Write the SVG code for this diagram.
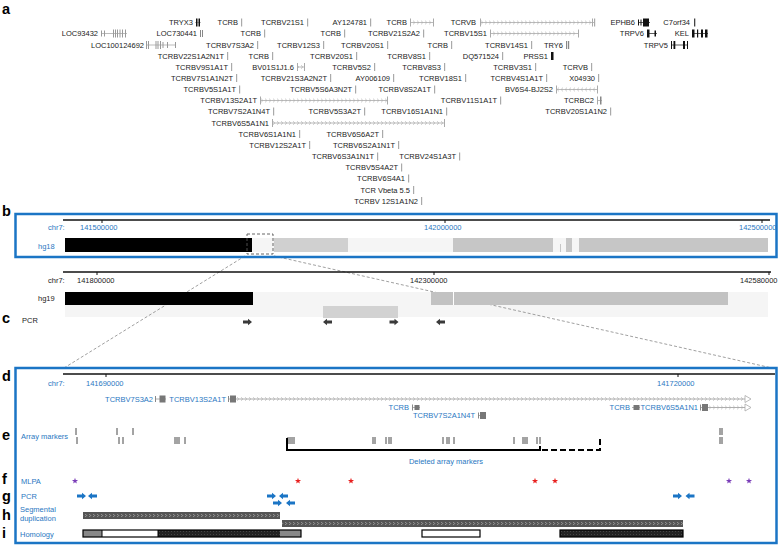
<svg xmlns="http://www.w3.org/2000/svg" width="779" height="545" viewBox="0 0 779 545">
<style>
text{font-family:"Liberation Sans",Arial,Helvetica,sans-serif}
.g{font-size:7.5px;fill:#222;text-anchor:end}
.gb{font-size:7.5px;fill:#2a78c2;text-anchor:end}
.pl{font-size:14.5px;font-weight:bold;fill:#000}
.bt{font-size:7.5px;fill:#2a78c2}
.kt{font-size:7.5px;fill:#222}
.tk{fill:#aaa}
.gy{fill:#888}
.blk{fill:#111}
.gln{stroke:#aaa;stroke-width:0.8;fill:none}
.dln{stroke:#999;stroke-width:0.8;fill:none}
.box{fill:none;stroke:#1b75c5;stroke-width:2.5}
.axis{stroke:#111;stroke-width:1.6}
.conn{stroke:#888;stroke-width:0.8;stroke-dasharray:3 2;fill:none}
.mk{stroke:#333;stroke-width:0.9;fill:none}
.pcrk{fill:#3a3a3a}
.pcrb{fill:#1b75c5}
</style>
<defs>
<pattern id="chR" width="4" height="6" y="-3" patternUnits="userSpaceOnUse"><path d="M1,1.3L2.8,3L1,4.7" fill="none" stroke="#aaa" stroke-width="0.7"/></pattern>
<pattern id="chL" width="4" height="6" y="-3" patternUnits="userSpaceOnUse"><path d="M3,1.3L1.2,3L3,4.7" fill="none" stroke="#aaa" stroke-width="0.7"/></pattern>
<pattern id="sd" width="4" height="7" y="-3.5" patternUnits="userSpaceOnUse"><rect width="4" height="7" fill="#555"/><path d="M1.2,2L2.7,3.5L1.2,5" fill="none" stroke="#ccc" stroke-width="0.6"/></pattern>
<pattern id="dk" width="3" height="3" patternUnits="userSpaceOnUse"><rect width="3" height="3" fill="#222"/><rect width="1" height="1" fill="#444"/></pattern>
<path id="star" d="M0,-3.2L0.76,-1.05L3.04,-0.99L1.24,0.4L1.88,2.59L0,1.3L-1.88,2.59L-1.24,0.4L-3.04,-0.99L-0.76,-1.05Z"/>
<path id="arR" d="M-4.5,-1.4H0.5V-3.2L4.5,0L0.5,3.2V1.4H-4.5Z"/>
<path id="arL" d="M4.5,-1.4H-0.5V-3.2L-4.5,0L-0.5,3.2V1.4H4.5Z"/>
</defs>
<rect width="779" height="545" fill="#fff"/>

<!-- panel letters -->
<g id="panel-letters">
<text class="pl" x="2" y="14">a</text>
<text class="pl" x="2" y="216">b</text>
<text class="pl" x="2" y="323">c</text>
<text class="pl" x="2" y="381">d</text>
<text class="pl" x="2" y="440">e</text>
<text class="pl" x="2" y="484">f</text>
<text class="pl" x="2" y="501">g</text>
<text class="pl" x="2" y="520">h</text>
<text class="pl" x="2" y="538">i</text>
</g>

<!-- panel a genes -->
<g id="panel-a">
<!-- row 1 -->
<g id="g-TRYX3" transform="translate(0,22.5)"><text class="g" x="193" y="2.7">TRYX3</text><path class="gln" d="M195,0H201"/><rect class="blk" x="196" y="-4" width="1.5" height="8"/><rect class="blk" x="198.5" y="-4" width="1.5" height="8"/></g>
<g id="g-TCRB-1" transform="translate(0,22.5)"><text class="g" x="238" y="2.7">TCRB</text><rect class="tk" x="241" y="-4" width="1.2" height="8"/></g>
<g id="g-TCRBV21S1" transform="translate(0,22.5)"><text class="g" x="304" y="2.7">TCRBV21S1</text><rect class="tk" x="307" y="-4" width="1.2" height="8"/></g>
<g id="g-AY124781" transform="translate(0,22.5)"><text class="g" x="367" y="2.7">AY124781</text><rect class="tk" x="370" y="-4" width="1.2" height="8"/></g>
<g id="g-TCRB-2" transform="translate(0,22.5)"><text class="g" x="407" y="2.7">TCRB</text><path class="gln" d="M410,0H434"/><rect x="411" y="-3" width="22" height="6" fill="url(#chR)"/><rect class="tk" x="410" y="-4" width="1" height="8"/><rect class="tk" x="433" y="-4" width="1" height="8"/></g>
<g id="g-TCRVB-1" transform="translate(0,22.5)"><text class="g" x="476" y="2.7">TCRVB</text><path class="gln" d="M480,0H595"/><rect x="481" y="-3" width="110" height="6" fill="url(#chR)"/><rect class="tk" x="480" y="-4" width="1" height="8"/><rect class="tk" x="592" y="-4" width="1" height="8"/><rect class="tk" x="594" y="-4" width="1.2" height="8"/></g>
<g id="g-EPHB6" transform="translate(0,22.5)"><text class="g" x="635" y="2.7">EPHB6</text><path class="gln" d="M638,0H650" style="stroke:#333"/><rect class="blk" x="638" y="-3" width="1" height="6"/><rect class="blk" x="640.5" y="-3" width="1" height="6"/><rect class="blk" x="643" y="-4" width="6" height="8"/></g>
<g id="g-C7orf34" transform="translate(0,22.5)"><text class="g" x="690" y="2.7">C7orf34</text><rect x="694" y="-4" width="1.3" height="8" fill="#444"/></g>
<!-- row 2 -->
<g id="g-LOC93432" transform="translate(0,33.5)"><text class="g" x="98" y="2.7">LOC93432</text><path class="gln" d="M101,0H127"/><path d="M101.5,-3v6M104.5,-3v6M113.5,-4v8M115.5,-4v8M117.5,-4v8M120,-4v8M122.5,-4v8M125.5,-4v8" stroke="#999" stroke-width="1"/></g>
<g id="g-LOC730441" transform="translate(0,33.5)"><text class="g" x="197" y="2.7">LOC730441</text><rect class="gy" x="200" y="-3.5" width="1" height="7"/><rect class="gy" x="202" y="-3.5" width="1" height="7"/></g>
<g id="g-TCRB-3" transform="translate(0,33.5)"><text class="g" x="261" y="2.7">TCRB</text><rect class="tk" x="264" y="-4" width="1.2" height="8"/></g>
<g id="g-TCRB-4" transform="translate(0,33.5)"><text class="g" x="341" y="2.7">TCRB</text><rect class="tk" x="344" y="-4" width="1.2" height="8"/></g>
<g id="g-TCRBV21S2A2" transform="translate(0,33.5)"><text class="g" x="420" y="2.7">TCRBV21S2A2</text><rect class="tk" x="423" y="-4" width="1.2" height="8"/></g>
<g id="g-TCRBV15S1" transform="translate(0,33.5)"><text class="g" x="487" y="2.7">TCRBV15S1</text><path class="gln" d="M490,0H579"/><rect x="491" y="-3" width="86" height="6" fill="url(#chR)"/><rect class="tk" x="490" y="-4" width="1" height="8"/><rect class="tk" x="578" y="-4" width="1" height="8"/></g>
<g id="g-TRPV6" transform="translate(0,33.5)"><text class="g" x="644" y="2.7">TRPV6</text><path class="gln" d="M647,0H657" style="stroke:#333"/><rect class="blk" x="647" y="-4" width="2.5" height="8"/><rect class="blk" x="654.5" y="-3" width="1.5" height="6"/></g>
<g id="g-KEL" transform="translate(0,33.5)"><text class="g" x="689" y="2.7">KEL</text><path class="gln" d="M692,0H708" style="stroke:#333"/><rect class="blk" x="692" y="-4" width="2.5" height="8"/><rect class="blk" x="697" y="-4" width="1.2" height="8"/><rect class="blk" x="701" y="-4" width="2" height="8"/><rect class="blk" x="705" y="-4" width="2.5" height="8"/></g>
<!-- row 3 -->
<g id="g-LOC100124692" transform="translate(0,45)"><text class="g" x="144" y="2.7">LOC100124692</text><path class="gln" d="M146,0H176"/><path d="M146.5,-4v8M148.5,-4v8M156,-4v8M158,-4v8M160.5,-4v8M163,-3v6M167.5,-3v6M175.5,-3v6" stroke="#999" stroke-width="1"/></g>
<g id="g-TCRBV7S3A2" transform="translate(0,45)"><text class="g" x="254" y="2.7">TCRBV7S3A2</text><rect class="tk" x="257" y="-4" width="1.2" height="8"/></g>
<g id="g-TCRBV12S3" transform="translate(0,45)"><text class="g" x="320" y="2.7">TCRBV12S3</text><rect class="tk" x="323" y="-4" width="1.2" height="8"/></g>
<g id="g-TCRBV20S1-1" transform="translate(0,45)"><text class="g" x="384" y="2.7">TCRBV20S1</text><rect class="tk" x="387" y="-4" width="1.2" height="8"/></g>
<g id="g-TCRB-5" transform="translate(0,45)"><text class="g" x="448" y="2.7">TCRB</text><rect class="tk" x="451" y="-4" width="1.2" height="8"/></g>
<g id="g-TCRBV14S1" transform="translate(0,45)"><text class="g" x="528" y="2.7">TCRBV14S1</text><rect class="tk" x="531" y="-4" width="1.2" height="8"/></g>
<g id="g-TRY6" transform="translate(0,45)"><text class="g" x="563" y="2.7">TRY6</text><rect class="gy" x="566" y="-4" width="1.2" height="8"/><rect class="gy" x="568" y="-4" width="1.2" height="8"/></g>
<g id="g-TRPV5" transform="translate(0,45)"><text class="g" x="668" y="2.7">TRPV5</text><path class="gln" d="M671,0H688" style="stroke:#333"/><rect class="blk" x="671" y="-4" width="1" height="8"/><rect class="blk" x="673.5" y="-4" width="1.8" height="8"/><rect class="blk" x="683" y="-4" width="2" height="8"/><rect class="blk" x="687" y="-4" width="1" height="8"/></g>
<!-- row 4 -->
<g id="g-TCRBV22S1A2N1T" transform="translate(0,56)"><text class="g" x="224" y="2.7">TCRBV22S1A2N1T</text><rect class="tk" x="227" y="-4" width="1.2" height="8"/></g>
<g id="g-TCRB-6" transform="translate(0,56)"><text class="g" x="269" y="2.7">TCRB</text><rect class="tk" x="272" y="-4" width="1.2" height="8"/></g>
<g id="g-TCRBV20S1-2" transform="translate(0,56)"><text class="g" x="353" y="2.7">TCRBV20S1</text><rect class="tk" x="356" y="-4" width="1.2" height="8"/></g>
<g id="g-TCRBV8S1" transform="translate(0,56)"><text class="g" x="426" y="2.7">TCRBV8S1</text><rect class="tk" x="429" y="-4" width="1.2" height="8"/></g>
<g id="g-DQ571524" transform="translate(0,56)"><text class="g" x="499" y="2.7">DQ571524</text><rect class="tk" x="502" y="-4" width="1.2" height="8"/></g>
<g id="g-PRSS1" transform="translate(0,56)"><text class="g" x="548" y="2.7">PRSS1</text><rect class="blk" x="551" y="-4" width="2.5" height="8"/></g>
<!-- row 5 -->
<g id="g-TCRBV9S1A1T" transform="translate(0,67)"><text class="g" x="228" y="2.7">TCRBV9S1A1T</text><rect class="tk" x="231" y="-4" width="1.2" height="8"/></g>
<g id="g-BV01S1J1.6" transform="translate(0,67)"><text class="g" x="294" y="2.7">BV01S1J1.6</text><path class="gln" d="M297,0H305"/><rect x="298" y="-3" width="6" height="6" fill="url(#chR)"/><rect class="tk" x="297" y="-4" width="1" height="8"/><rect class="tk" x="304" y="-4" width="1" height="8"/></g>
<g id="g-TCRBV5S2" transform="translate(0,67)"><text class="g" x="371" y="2.7">TCRBV5S2</text><rect class="tk" x="374" y="-4" width="1.2" height="8"/></g>
<g id="g-TCRBV8S3" transform="translate(0,67)"><text class="g" x="441" y="2.7">TCRBV8S3</text><rect class="tk" x="444" y="-4" width="1.2" height="8"/></g>
<g id="g-TCRBV3S1" transform="translate(0,67)"><text class="g" x="532" y="2.7">TCRBV3S1</text><rect class="tk" x="535" y="-4" width="1.2" height="8"/></g>
<g id="g-TCRVB-2" transform="translate(0,67)"><text class="g" x="588" y="2.7">TCRVB</text><rect class="tk" x="591" y="-4" width="1.2" height="8"/></g>
<!-- row 6 -->
<g id="g-TCRBV7S1A1N2T" transform="translate(0,78)"><text class="g" x="233" y="2.7">TCRBV7S1A1N2T</text><rect class="tk" x="236" y="-4" width="1.2" height="8"/></g>
<g id="g-TCRBV21S3A2N2T" transform="translate(0,78)"><text class="g" x="327" y="2.7">TCRBV21S3A2N2T</text><rect class="tk" x="330" y="-4" width="1.2" height="8"/></g>
<g id="g-AY006109" transform="translate(0,78)"><text class="g" x="390" y="2.7">AY006109</text><rect class="tk" x="393" y="-4" width="1.2" height="8"/></g>
<g id="g-TCRBV18S1" transform="translate(0,78)"><text class="g" x="462" y="2.7">TCRBV18S1</text><rect class="tk" x="465" y="-4" width="1.2" height="8"/></g>
<g id="g-TCRBV4S1A1T" transform="translate(0,78)"><text class="g" x="543" y="2.7">TCRBV4S1A1T</text><rect class="tk" x="546" y="-4" width="1.2" height="8"/></g>
<g id="g-X04930" transform="translate(0,78)"><text class="g" x="595" y="2.7">X04930</text><rect class="tk" x="598" y="-4" width="1.2" height="8"/></g>
<!-- row 7 -->
<g id="g-TCRBV5S1A1T" transform="translate(0,89.5)"><text class="g" x="236" y="2.7">TCRBV5S1A1T</text><rect class="tk" x="239" y="-4" width="1.2" height="8"/></g>
<g id="g-TCRBV5S6A3N2T" transform="translate(0,89.5)"><text class="g" x="352" y="2.7">TCRBV5S6A3N2T</text><rect class="tk" x="355" y="-4" width="1.2" height="8"/></g>
<g id="g-TCRBV8S2A1T" transform="translate(0,89.5)"><text class="g" x="431" y="2.7">TCRBV8S2A1T</text><rect class="tk" x="434" y="-4" width="1.2" height="8"/></g>
<g id="g-BV6S4-BJ2S2" transform="translate(0,89.5)"><text class="g" x="553" y="2.7">BV6S4-BJ2S2</text><path class="gln" d="M556,0H598"/><rect x="557" y="-3" width="40" height="6" fill="url(#chL)"/><rect class="tk" x="556" y="-4" width="1" height="8"/><rect class="tk" x="597" y="-4" width="1" height="8"/></g>
<!-- row 8 -->
<g id="g-TCRBV13S2A1T" transform="translate(0,100.5)"><text class="g" x="257" y="2.7">TCRBV13S2A1T</text><path class="gln" d="M260,0H388"/><rect x="261" y="-3" width="126" height="6" fill="url(#chR)"/><rect class="tk" x="260" y="-4" width="1" height="8"/><rect class="tk" x="387" y="-4" width="1" height="8"/></g>
<g id="g-TCRBV11S1A1T" transform="translate(0,100.5)"><text class="g" x="497" y="2.7">TCRBV11S1A1T</text><rect class="tk" x="500" y="-4" width="1.2" height="8"/></g>
<g id="g-TCRBC2" transform="translate(0,100.5)"><text class="g" x="594" y="2.7">TCRBC2</text><path class="gln" d="M597,0H602"/><rect class="tk" x="597" y="-4" width="1" height="8"/><rect class="gy" x="600" y="-4" width="1.5" height="8"/></g>
<!-- row 9 -->
<g id="g-TCRBV7S2A1N4T" transform="translate(0,111.5)"><text class="g" x="270" y="2.7">TCRBV7S2A1N4T</text><rect class="tk" x="273" y="-4" width="1.2" height="8"/></g>
<g id="g-TCRBV5S3A2T" transform="translate(0,111.5)"><text class="g" x="361" y="2.7">TCRBV5S3A2T</text><rect class="tk" x="364" y="-4" width="1.2" height="8"/></g>
<g id="g-TCRBV16S1A1N1" transform="translate(0,111.5)"><text class="g" x="443" y="2.7">TCRBV16S1A1N1</text><rect class="tk" x="446" y="-4" width="1.2" height="8"/></g>
<g id="g-TCRBV20S1A1N2" transform="translate(0,111.5)"><text class="g" x="607" y="2.7">TCRBV20S1A1N2</text><rect class="tk" x="610" y="-4" width="1.2" height="8"/></g>
<!-- row 10 -->
<g id="g-TCRBV6S5A1N1" transform="translate(0,123)"><text class="g" x="269" y="2.7">TCRBV6S5A1N1</text><path class="gln" d="M272,0H445"/><rect x="273" y="-3" width="171" height="6" fill="url(#chR)"/><rect class="tk" x="272" y="-4" width="1" height="8"/><rect class="tk" x="444" y="-4" width="1" height="8"/></g>
<!-- row 11 -->
<g id="g-TCRBV6S1A1N1" transform="translate(0,134)"><text class="g" x="296" y="2.7">TCRBV6S1A1N1</text><rect class="tk" x="299" y="-4" width="1.2" height="8"/></g>
<g id="g-TCRBV6S6A2T" transform="translate(0,134)"><text class="g" x="379" y="2.7">TCRBV6S6A2T</text><rect class="tk" x="382" y="-4" width="1.2" height="8"/></g>
<!-- row 12 -->
<g id="g-TCRBV12S2A1T" transform="translate(0,145)"><text class="g" x="306" y="2.7">TCRBV12S2A1T</text><rect class="tk" x="309" y="-4" width="1.2" height="8"/></g>
<g id="g-TCRBV6S2A1N1T" transform="translate(0,145)"><text class="g" x="395" y="2.7">TCRBV6S2A1N1T</text><rect class="tk" x="398" y="-4" width="1.2" height="8"/></g>
<!-- row 13 -->
<g id="g-TCRBV6S3A1N1T" transform="translate(0,156.5)"><text class="g" x="374" y="2.7">TCRBV6S3A1N1T</text><rect class="tk" x="377" y="-4" width="1.2" height="8"/></g>
<g id="g-TCRBV24S1A3T" transform="translate(0,156.5)"><text class="g" x="456" y="2.7">TCRBV24S1A3T</text><rect class="tk" x="459" y="-4" width="1.2" height="8"/></g>
<!-- rows 14-17 -->
<g id="g-TCRBV5S4A2T" transform="translate(0,167.5)"><text class="g" x="398" y="2.7">TCRBV5S4A2T</text><rect class="tk" x="401" y="-4" width="1.2" height="8"/></g>
<g id="g-TCRBV6S4A1" transform="translate(0,178.5)"><text class="g" x="405" y="2.7">TCRBV6S4A1</text><rect class="tk" x="408" y="-4" width="1.2" height="8"/></g>
<g id="g-TCRVbeta5.5" transform="translate(0,190)"><text class="g" x="410" y="2.7">TCR Vbeta 5.5</text><rect class="tk" x="413" y="-4" width="1.2" height="8"/></g>
<g id="g-TCRBV12S1A1N2" transform="translate(0,201)"><text class="g" x="418" y="2.7">TCRBV 12S1A1N2</text><rect class="tk" x="421" y="-4" width="1.2" height="8"/></g>
</g>

<!-- background bands for hg19 / PCR -->
<rect x="65" y="292" width="703" height="25" fill="#f5f5f5"/>

<!-- connectors -->
<g id="connectors">
<path class="conn" d="M245,256L64,368"/>
<path class="conn" d="M274,256L772,368"/>
</g>

<!-- panel b: hg18 -->
<g id="panel-b-hg18">
<rect class="box" x="15.5" y="214" width="761" height="43"/>
<line class="axis" x1="63" y1="220" x2="770" y2="220"/>
<path d="M102,220v3M445,220v3M762,220v3" stroke="#111" stroke-width="1"/>
<text class="bt" x="48" y="230">chr7:</text>
<text class="bt" x="80" y="230">141500000</text>
<text class="bt" x="424" y="230">142000000</text>
<text class="bt" x="739" y="230">142500000</text>
<text class="bt" x="38" y="249">hg18</text>
<rect x="65" y="238" width="703" height="14" fill="#f5f5f5"/>
<rect x="65" y="238" width="187" height="14" fill="#000"/>
<rect x="274" y="238" width="74" height="14" fill="#d0d0d0"/>
<rect x="453" y="238" width="100" height="14" fill="#c6c6c6"/>
<rect x="560" y="244" width="1" height="8" fill="#c6c6c6"/>
<rect x="566" y="238" width="6" height="14" fill="#c6c6c6"/>
<rect x="579" y="238" width="189" height="14" fill="#c6c6c6"/>
<rect x="247" y="234" width="26" height="20" fill="none" stroke="#555" stroke-width="0.9" stroke-dasharray="3 2"/>
</g>

<!-- hg19 -->
<g id="panel-b-hg19">
<line class="axis" x1="63" y1="272" x2="771" y2="272"/>
<path d="M97,272v3M434,272v3M769,272v3" stroke="#111" stroke-width="1"/>
<text class="kt" x="48" y="283">chr7:</text>
<text class="kt" x="77" y="283">141800000</text>
<text class="kt" x="410" y="283">142300000</text>
<text class="kt" x="740" y="283">142580000</text>
<text class="kt" x="38" y="301">hg19</text>
<rect x="65" y="292" width="188" height="13" fill="#000"/>
<rect x="431" y="292" width="297" height="13" fill="#c2c2c2"/>
<rect x="453" y="292" width="1" height="13" fill="#fff"/>
</g>

<!-- panel c -->
<g id="panel-c">
<text class="kt" x="22" y="323">PCR</text>
<rect x="323" y="306" width="75" height="12" fill="#d2d2d2"/>
<use href="#arR" class="pcrk" x="247.5" y="322"/>
<use href="#arL" class="pcrk" x="327.5" y="322"/>
<use href="#arR" class="pcrk" x="394" y="322"/>
<use href="#arL" class="pcrk" x="440.5" y="322"/>
</g>

<!-- panel d -->
<g id="panel-d">
<rect class="box" x="15.5" y="368" width="761" height="175"/>
<line class="axis" x1="63" y1="374" x2="775" y2="374"/>
<path d="M106,374v3M678,374v3" stroke="#111" stroke-width="1"/>
<text class="bt" x="48" y="386">chr7:</text>
<text class="bt" x="86" y="386">141690000</text>
<text class="bt" x="657" y="386">141720000</text>
</g>
<g id="d-TCRBV7S3A2" transform="translate(0,399)"><text class="gb" x="153" y="2.7">TCRBV7S3A2</text><path class="dln" d="M155,0H166"/><rect x="155" y="-3" width="1" height="6" fill="#888"/><rect x="159.5" y="-3.5" width="6" height="7" fill="#777"/></g>
<g id="d-TCRBV13S2A1T" transform="translate(0,399)"><text class="gb" x="226" y="2.7">TCRBV13S2A1T</text><path class="dln" d="M228,0H746"/><rect x="237" y="-3" width="508" height="6" fill="url(#chR)"/><rect x="228" y="-3" width="1" height="6" fill="#888"/><rect x="230" y="-3.5" width="6" height="7" fill="#777"/><path d="M745,-3.5L751,0L745,3.5Z" fill="#fff" stroke="#aaa" stroke-width="0.8"/></g>
<g id="d-TCRB-1" transform="translate(0,407.5)"><text class="gb" x="409" y="2.7">TCRB</text><path class="dln" d="M412,0H420"/><rect x="412" y="-3" width="1" height="6" fill="#888"/><rect x="414.5" y="-2.5" width="5" height="5" fill="#777"/></g>
<g id="d-TCRB-2" transform="translate(0,407.5)"><text class="gb" x="630" y="2.7">TCRB</text><path class="dln" d="M632,0H640"/><rect x="633.5" y="-2.5" width="6" height="5" fill="#777"/></g>
<g id="d-TCRBV6S5A1N1" transform="translate(0,407.5)"><text class="gb" x="698" y="2.7">TCRBV6S5A1N1</text><path class="dln" d="M700,0H746"/><rect x="709" y="-3" width="36" height="6" fill="url(#chR)"/><rect x="700" y="-3" width="1" height="6" fill="#888"/><rect x="702" y="-3.5" width="6" height="7" fill="#777"/><path d="M745,-3.5L751,0L745,3.5Z" fill="#fff" stroke="#aaa" stroke-width="0.8"/></g>
<g id="d-TCRBV7S2A1N4T" transform="translate(0,415.5)"><text class="gb" x="475" y="2.7">TCRBV7S2A1N4T</text><path class="dln" d="M478,0H486"/><rect x="478" y="-3" width="1" height="6" fill="#888"/><rect x="480" y="-3.5" width="6" height="7" fill="#777"/></g>

<!-- panel e -->
<g id="panel-e">
<text class="bt" x="21" y="439">Array markers</text>
<path class="mk" d="M76,428v7M117,428v7M133,428v7M720,428v7M722,428v7"/>
<path class="mk" d="M77,437v7M119,437v7M123,437v7M175,437v7M177,437v7M179,437v7M185,437v7M288,437v7M290,437v7M292,437v7M294,437v7M373,437v7M375,437v7M386,437v7M389,437v7M391,437v7M443,437v7M447,437v7M449,437v7M454,437v7M514,437v7M523,437v7M525,437v7M527,437v7M537,437v7M540,437v7M720,437v7M722,437v7"/>
</g>
<g id="deleted-bracket">
<path d="M287,438V450H540V446" fill="none" stroke="#000" stroke-width="2"/>
<path d="M542,450H600V437" fill="none" stroke="#000" stroke-width="2" stroke-dasharray="6 3"/>
<text class="bt" x="446" y="464" text-anchor="middle">Deleted array markers</text>
</g>

<!-- panel f -->
<g id="panel-f">
<text class="bt" x="21" y="484">MLPA</text>
<use href="#star" x="75" y="481" fill="#7a3db8"/>
<use href="#star" x="298" y="481" fill="#e8201f"/>
<use href="#star" x="351" y="481" fill="#e8201f"/>
<use href="#star" x="535" y="481" fill="#e8201f"/>
<use href="#star" x="555" y="481" fill="#e8201f"/>
<use href="#star" x="729" y="481" fill="#7a3db8"/>
<use href="#star" x="749" y="481" fill="#7a3db8"/>
</g>

<!-- panel g -->
<g id="panel-g">
<text class="bt" x="21" y="499">PCR</text>
<use href="#arR" class="pcrb" x="81.5" y="496"/>
<use href="#arL" class="pcrb" x="92.5" y="496"/>
<use href="#arR" class="pcrb" x="271.5" y="496"/>
<use href="#arL" class="pcrb" x="283.5" y="496"/>
<use href="#arR" class="pcrb" x="277.5" y="503"/>
<use href="#arL" class="pcrb" x="290.5" y="503"/>
<use href="#arR" class="pcrb" x="677.5" y="496"/>
<use href="#arL" class="pcrb" x="690" y="496"/>
</g>

<!-- panel h -->
<g id="panel-h">
<text class="bt" x="20" y="512">Segmental</text>
<text class="bt" x="20" y="521">duplication</text>
<g transform="translate(0,515.5)"><rect x="83" y="-3.5" width="197" height="7" fill="url(#sd)"/></g>
<g transform="translate(0,523.5)"><rect x="282" y="-3.5" width="401" height="7" fill="url(#sd)"/></g>
</g>

<!-- panel i -->
<g id="panel-i">
<text class="bt" x="20" y="537">Homology</text>
<rect x="83" y="530" width="19" height="7" fill="#888"/>
<rect x="102" y="530" width="56" height="7" fill="#fff"/>
<rect x="158" y="530" width="122" height="7" fill="url(#dk)"/>
<rect x="280" y="530" width="21" height="7" fill="#888"/>
<rect x="83" y="530" width="218" height="7" fill="none" stroke="#000" stroke-width="1.2"/>
<line x1="102" y1="530" x2="102" y2="537" stroke="#000" stroke-width="1"/>
<line x1="158" y1="530" x2="158" y2="537" stroke="#000" stroke-width="1"/>
<rect x="422" y="530" width="58" height="7" fill="#fff" stroke="#000" stroke-width="1.2"/>
<rect x="560" y="530" width="123" height="7" fill="url(#dk)" stroke="#000" stroke-width="1.2"/>
</g>
</svg>
